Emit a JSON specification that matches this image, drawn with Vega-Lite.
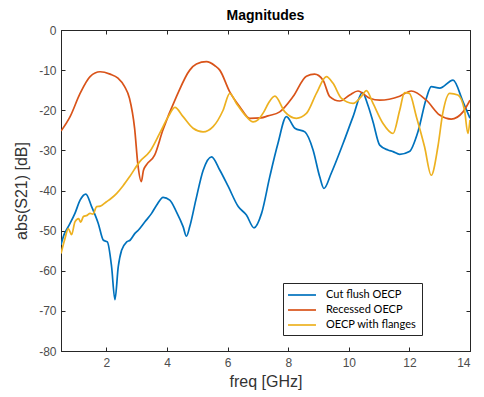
{
  "$schema": "https://vega.github.io/schema/vega-lite/v6.json",
  "width": 409,
  "height": 321,
  "autosize": "none",
  "padding": {"left": 61, "top": 30, "right": 14, "bottom": 46},
  "title": {"text": "Magnitudes", "fontSize": 14, "fontWeight": "bold", "color": "#000", "offset": 1, "font": "Liberation Sans"},
  "data": {"values": [
    {"f":0.5,"db":-53.5,"s":"Cut flush OECP"},{"f":0.6,"db":-51,"s":"Cut flush OECP"},{"f":0.74,"db":-49,"s":"Cut flush OECP"},{"f":0.96,"db":-45.7,"s":"Cut flush OECP"},{"f":1.13,"db":-42.4,"s":"Cut flush OECP"},{"f":1.32,"db":-40.9,"s":"Cut flush OECP"},{"f":1.51,"db":-44,"s":"Cut flush OECP"},{"f":1.73,"db":-48.2,"s":"Cut flush OECP"},{"f":1.9,"db":-52.4,"s":"Cut flush OECP"},{"f":2.03,"db":-52.8,"s":"Cut flush OECP"},{"f":2.17,"db":-59,"s":"Cut flush OECP"},{"f":2.28,"db":-67.2,"s":"Cut flush OECP"},{"f":2.39,"db":-59,"s":"Cut flush OECP"},{"f":2.5,"db":-54.9,"s":"Cut flush OECP"},{"f":2.67,"db":-52.8,"s":"Cut flush OECP"},{"f":2.78,"db":-52.4,"s":"Cut flush OECP"},{"f":2.94,"db":-50.7,"s":"Cut flush OECP"},{"f":3.05,"db":-49.9,"s":"Cut flush OECP"},{"f":3.27,"db":-47.8,"s":"Cut flush OECP"},{"f":3.49,"db":-45.7,"s":"Cut flush OECP"},{"f":3.66,"db":-43.6,"s":"Cut flush OECP"},{"f":3.87,"db":-41.7,"s":"Cut flush OECP"},{"f":4.09,"db":-42.4,"s":"Cut flush OECP"},{"f":4.31,"db":-45.3,"s":"Cut flush OECP"},{"f":4.53,"db":-49,"s":"Cut flush OECP"},{"f":4.64,"db":-51.4,"s":"Cut flush OECP"},{"f":4.75,"db":-49,"s":"Cut flush OECP"},{"f":4.95,"db":-42.4,"s":"Cut flush OECP"},{"f":5.19,"db":-35,"s":"Cut flush OECP"},{"f":5.47,"db":-31.6,"s":"Cut flush OECP"},{"f":5.74,"db":-34.9,"s":"Cut flush OECP"},{"f":6.02,"db":-39,"s":"Cut flush OECP"},{"f":6.35,"db":-44,"s":"Cut flush OECP"},{"f":6.62,"db":-46.1,"s":"Cut flush OECP"},{"f":6.87,"db":-49.3,"s":"Cut flush OECP"},{"f":7.12,"db":-45.7,"s":"Cut flush OECP"},{"f":7.39,"db":-36.6,"s":"Cut flush OECP"},{"f":7.66,"db":-28.3,"s":"Cut flush OECP"},{"f":7.94,"db":-21.6,"s":"Cut flush OECP"},{"f":8.22,"db":-24.5,"s":"Cut flush OECP"},{"f":8.55,"db":-25.4,"s":"Cut flush OECP"},{"f":8.82,"db":-29.9,"s":"Cut flush OECP"},{"f":9.04,"db":-36.6,"s":"Cut flush OECP"},{"f":9.18,"db":-39.5,"s":"Cut flush OECP"},{"f":9.42,"db":-35.7,"s":"Cut flush OECP"},{"f":9.81,"db":-28.3,"s":"Cut flush OECP"},{"f":10.14,"db":-21.6,"s":"Cut flush OECP"},{"f":10.45,"db":-15.6,"s":"Cut flush OECP"},{"f":10.62,"db":-18.5,"s":"Cut flush OECP"},{"f":10.8,"db":-22.9,"s":"Cut flush OECP"},{"f":11.02,"db":-28.7,"s":"Cut flush OECP"},{"f":11.29,"db":-29.9,"s":"Cut flush OECP"},{"f":11.46,"db":-30.3,"s":"Cut flush OECP"},{"f":11.68,"db":-31,"s":"Cut flush OECP"},{"f":12.0,"db":-30.3,"s":"Cut flush OECP"},{"f":12.28,"db":-25.4,"s":"Cut flush OECP"},{"f":12.56,"db":-17,"s":"Cut flush OECP"},{"f":12.72,"db":-14.1,"s":"Cut flush OECP"},{"f":13.0,"db":-14.5,"s":"Cut flush OECP"},{"f":13.44,"db":-12.5,"s":"Cut flush OECP"},{"f":13.77,"db":-17.9,"s":"Cut flush OECP"},{"f":14.0,"db":-22,"s":"Cut flush OECP"},

    {"f":0.5,"db":-25.2,"s":"Recessed OECP"},{"f":0.8,"db":-21.6,"s":"Recessed OECP"},{"f":1.13,"db":-15.8,"s":"Recessed OECP"},{"f":1.46,"db":-11.6,"s":"Recessed OECP"},{"f":1.79,"db":-10.4,"s":"Recessed OECP"},{"f":2.12,"db":-11,"s":"Recessed OECP"},{"f":2.38,"db":-12,"s":"Recessed OECP"},{"f":2.6,"db":-14.1,"s":"Recessed OECP"},{"f":2.76,"db":-17,"s":"Recessed OECP"},{"f":2.93,"db":-24.5,"s":"Recessed OECP"},{"f":3.04,"db":-33.7,"s":"Recessed OECP"},{"f":3.15,"db":-37.8,"s":"Recessed OECP"},{"f":3.22,"db":-35,"s":"Recessed OECP"},{"f":3.31,"db":-33.7,"s":"Recessed OECP"},{"f":3.59,"db":-31.2,"s":"Recessed OECP"},{"f":3.86,"db":-25,"s":"Recessed OECP"},{"f":4.31,"db":-16.6,"s":"Recessed OECP"},{"f":4.75,"db":-10,"s":"Recessed OECP"},{"f":4.97,"db":-8.5,"s":"Recessed OECP"},{"f":5.3,"db":-7.9,"s":"Recessed OECP"},{"f":5.58,"db":-8.9,"s":"Recessed OECP"},{"f":5.74,"db":-10,"s":"Recessed OECP"},{"f":6.07,"db":-15.4,"s":"Recessed OECP"},{"f":6.4,"db":-19.1,"s":"Recessed OECP"},{"f":6.73,"db":-22,"s":"Recessed OECP"},{"f":7.1,"db":-21.9,"s":"Recessed OECP"},{"f":7.33,"db":-21.4,"s":"Recessed OECP"},{"f":7.72,"db":-20.4,"s":"Recessed OECP"},{"f":8.16,"db":-16.6,"s":"Recessed OECP"},{"f":8.6,"db":-11.5,"s":"Recessed OECP"},{"f":8.87,"db":-11,"s":"Recessed OECP"},{"f":9.15,"db":-12.5,"s":"Recessed OECP"},{"f":9.37,"db":-16.6,"s":"Recessed OECP"},{"f":9.7,"db":-17.7,"s":"Recessed OECP"},{"f":10.03,"db":-16.2,"s":"Recessed OECP"},{"f":10.3,"db":-15.2,"s":"Recessed OECP"},{"f":10.69,"db":-17,"s":"Recessed OECP"},{"f":11.02,"db":-17.5,"s":"Recessed OECP"},{"f":11.68,"db":-16.5,"s":"Recessed OECP"},{"f":12.06,"db":-15.2,"s":"Recessed OECP"},{"f":12.56,"db":-17.5,"s":"Recessed OECP"},{"f":13.0,"db":-21.2,"s":"Recessed OECP"},{"f":13.38,"db":-22.2,"s":"Recessed OECP"},{"f":13.77,"db":-20.4,"s":"Recessed OECP"},{"f":14.0,"db":-17.5,"s":"Recessed OECP"},

    {"f":0.5,"db":-55.7,"s":"OECP with flanges"},{"f":0.63,"db":-52,"s":"OECP with flanges"},{"f":0.74,"db":-49.5,"s":"OECP with flanges"},{"f":0.85,"db":-51,"s":"OECP with flanges"},{"f":0.96,"db":-47.8,"s":"OECP with flanges"},{"f":1.08,"db":-47,"s":"OECP with flanges"},{"f":1.15,"db":-47.9,"s":"OECP with flanges"},{"f":1.24,"db":-46.5,"s":"OECP with flanges"},{"f":1.36,"db":-46.2,"s":"OECP with flanges"},{"f":1.46,"db":-45.7,"s":"OECP with flanges"},{"f":1.55,"db":-45.9,"s":"OECP with flanges"},{"f":1.68,"db":-44,"s":"OECP with flanges"},{"f":1.8,"db":-43.9,"s":"OECP with flanges"},{"f":2.0,"db":-42.8,"s":"OECP with flanges"},{"f":2.15,"db":-42,"s":"OECP with flanges"},{"f":2.34,"db":-40.7,"s":"OECP with flanges"},{"f":2.55,"db":-38.8,"s":"OECP with flanges"},{"f":2.77,"db":-36.5,"s":"OECP with flanges"},{"f":3.1,"db":-32.8,"s":"OECP with flanges"},{"f":3.43,"db":-30.3,"s":"OECP with flanges"},{"f":3.76,"db":-25.7,"s":"OECP with flanges"},{"f":4.04,"db":-21.6,"s":"OECP with flanges"},{"f":4.26,"db":-19.3,"s":"OECP with flanges"},{"f":4.53,"db":-21.6,"s":"OECP with flanges"},{"f":4.86,"db":-24.5,"s":"OECP with flanges"},{"f":5.19,"db":-25.4,"s":"OECP with flanges"},{"f":5.52,"db":-24.1,"s":"OECP with flanges"},{"f":5.85,"db":-20,"s":"OECP with flanges"},{"f":6.07,"db":-15.8,"s":"OECP with flanges"},{"f":6.29,"db":-18.3,"s":"OECP with flanges"},{"f":6.62,"db":-21.6,"s":"OECP with flanges"},{"f":6.84,"db":-22.9,"s":"OECP with flanges"},{"f":7.0,"db":-22.4,"s":"OECP with flanges"},{"f":7.18,"db":-20.6,"s":"OECP with flanges"},{"f":7.35,"db":-18.2,"s":"OECP with flanges"},{"f":7.56,"db":-16.5,"s":"OECP with flanges"},{"f":7.89,"db":-20.4,"s":"OECP with flanges"},{"f":8.27,"db":-22,"s":"OECP with flanges"},{"f":8.6,"db":-20.8,"s":"OECP with flanges"},{"f":8.93,"db":-15.8,"s":"OECP with flanges"},{"f":9.26,"db":-11.6,"s":"OECP with flanges"},{"f":9.48,"db":-13.3,"s":"OECP with flanges"},{"f":9.75,"db":-17,"s":"OECP with flanges"},{"f":10.14,"db":-18.3,"s":"OECP with flanges"},{"f":10.41,"db":-16.6,"s":"OECP with flanges"},{"f":10.58,"db":-15.1,"s":"OECP with flanges"},{"f":10.8,"db":-18.3,"s":"OECP with flanges"},{"f":11.13,"db":-23.3,"s":"OECP with flanges"},{"f":11.46,"db":-25.8,"s":"OECP with flanges"},{"f":11.68,"db":-20,"s":"OECP with flanges"},{"f":11.84,"db":-15.6,"s":"OECP with flanges"},{"f":12.0,"db":-15.8,"s":"OECP with flanges"},{"f":12.23,"db":-21.6,"s":"OECP with flanges"},{"f":12.5,"db":-29.1,"s":"OECP with flanges"},{"f":12.72,"db":-36.2,"s":"OECP with flanges"},{"f":12.94,"db":-29.1,"s":"OECP with flanges"},{"f":13.1,"db":-20.8,"s":"OECP with flanges"},{"f":13.33,"db":-15.8,"s":"OECP with flanges"},{"f":13.6,"db":-16.2,"s":"OECP with flanges"},{"f":13.82,"db":-20,"s":"OECP with flanges"},{"f":13.93,"db":-25.8,"s":"OECP with flanges"},{"f":14.0,"db":-22.4,"s":"OECP with flanges"}
  ]},
  "layer": [
    {
      "mark": {"type": "line", "strokeWidth": 1.7, "interpolate": "monotone", "clip": true},
      "encoding": {
        "x": {"field": "f", "type": "quantitative", "scale": {"domain": [0.5, 14], "nice": false, "zero": false},
              "axis": {"orient": "bottom", "title": "freq [GHz]", "values": [2,4,6,8,10,12,14], "tickSize": -4, "labelPadding": 10, "titlePadding": 5}},
        "y": {"field": "db", "type": "quantitative", "scale": {"domain": [-80, 0], "nice": false},
              "axis": {"orient": "left", "title": "abs(S21) [dB]", "values": [-80,-70,-60,-50,-40,-30,-20,-10,0], "labelExpr": "'' + datum.value", "tickSize": -4, "labelPadding": 9, "titlePadding": 9}},
        "color": {"field": "s", "type": "nominal",
                  "scale": {"domain": ["Cut flush OECP", "Recessed OECP", "OECP with flanges"], "range": ["#0072BD", "#D95319", "#EDB120"]},
                  "legend": {"orient": "none", "legendX": 222, "legendY": 253, "title": null}}
      }
    },
    {
      "mark": {"type": "line", "opacity": 0},
      "encoding": {
        "x": {"field": "f", "type": "quantitative", "axis": {"orient": "top", "title": null, "labels": false, "values": [2,4,6,8,10,12,14], "tickSize": -4}},
        "y": {"field": "db", "type": "quantitative", "axis": {"orient": "right", "title": null, "labels": false, "values": [-80,-70,-60,-50,-40,-30,-20,-10,0], "tickSize": -4}},
        "detail": {"field": "s"}
      }
    }
  ],
  "config": {
    "font": "Liberation Sans",
    "view": {"stroke": "#262626", "strokeWidth": 1},
    "axis": {"grid": false, "domainColor": "#262626", "tickColor": "#262626", "labelColor": "#4d4d4d", "labelFont": "Liberation Sans", "labelFontSize": 12, "titleFont": "Liberation Sans", "titleFontWeight": "normal", "titleFontSize": 16, "titleColor": "#333333"},
    "legend": {"strokeColor": "#262626", "fillColor": "#ffffff", "padding": 5, "symbolType": "M-2.33,0H2.33", "symbolSize": 144, "symbolOffset": 7, "symbolStrokeWidth": 1.7, "labelFont": "Lato", "labelFontSize": 11, "labelColor": "#000000", "rowPadding": 3, "cornerRadius": 0, "labelOffset": 17, "labelLimit": 300}
  }
}
